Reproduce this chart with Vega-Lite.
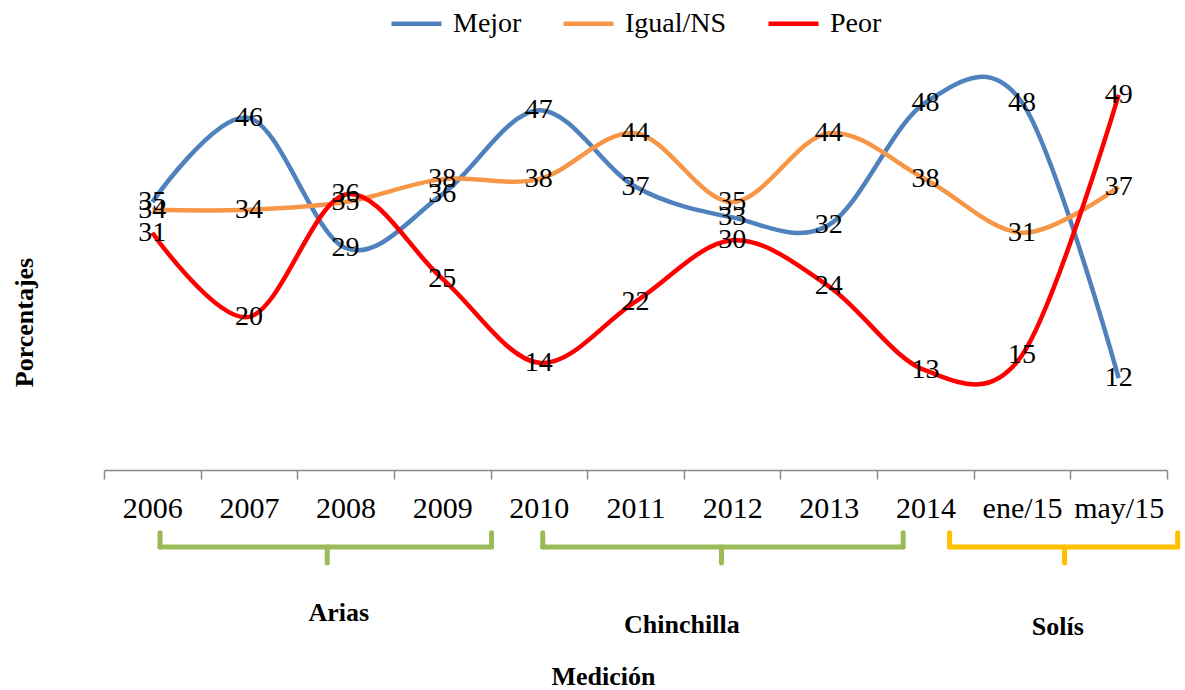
{
  "$schema": "https://vega.github.io/schema/vega-lite/v6.json",
  "autosize": "none",
  "width": 1063,
  "height": 421,
  "padding": {"left": 104, "top": 49, "right": 18, "bottom": 220},
  "background": "white",
  "config": {"view": {"stroke": null}, "font": "Liberation Serif"},
  "datasets": {
    "serie": [
      {"medicion": "2006", "serie": "Mejor", "valor": 35},
      {"medicion": "2007", "serie": "Mejor", "valor": 46},
      {"medicion": "2008", "serie": "Mejor", "valor": 29},
      {"medicion": "2009", "serie": "Mejor", "valor": 36},
      {"medicion": "2010", "serie": "Mejor", "valor": 47},
      {"medicion": "2011", "serie": "Mejor", "valor": 37},
      {"medicion": "2012", "serie": "Mejor", "valor": 33},
      {"medicion": "2013", "serie": "Mejor", "valor": 32},
      {"medicion": "2014", "serie": "Mejor", "valor": 48},
      {"medicion": "ene/15", "serie": "Mejor", "valor": 48},
      {"medicion": "may/15", "serie": "Mejor", "valor": 12},
      {"medicion": "2006", "serie": "Igual/NS", "valor": 34},
      {"medicion": "2007", "serie": "Igual/NS", "valor": 34},
      {"medicion": "2008", "serie": "Igual/NS", "valor": 35},
      {"medicion": "2009", "serie": "Igual/NS", "valor": 38},
      {"medicion": "2010", "serie": "Igual/NS", "valor": 38},
      {"medicion": "2011", "serie": "Igual/NS", "valor": 44},
      {"medicion": "2012", "serie": "Igual/NS", "valor": 35},
      {"medicion": "2013", "serie": "Igual/NS", "valor": 44},
      {"medicion": "2014", "serie": "Igual/NS", "valor": 38},
      {"medicion": "ene/15", "serie": "Igual/NS", "valor": 31},
      {"medicion": "may/15", "serie": "Igual/NS", "valor": 37},
      {"medicion": "2006", "serie": "Peor", "valor": 31},
      {"medicion": "2007", "serie": "Peor", "valor": 20},
      {"medicion": "2008", "serie": "Peor", "valor": 36},
      {"medicion": "2009", "serie": "Peor", "valor": 25},
      {"medicion": "2010", "serie": "Peor", "valor": 14},
      {"medicion": "2011", "serie": "Peor", "valor": 22},
      {"medicion": "2012", "serie": "Peor", "valor": 30},
      {"medicion": "2013", "serie": "Peor", "valor": 24},
      {"medicion": "2014", "serie": "Peor", "valor": 13},
      {"medicion": "ene/15", "serie": "Peor", "valor": 15},
      {"medicion": "may/15", "serie": "Peor", "valor": 49}
    ],
    "llaves": [
      {"gobierno": "Arias", "xa": 0.58, "xb": 0.58, "ya": -8.2, "yb": -10.06},
      {"gobierno": "Arias", "xa": 0.58, "xb": 4.01, "ya": -10.06, "yb": -10.06},
      {"gobierno": "Arias", "xa": 4.01, "xb": 4.01, "ya": -10.06, "yb": -8.2},
      {"gobierno": "Arias", "xa": 2.31, "xb": 2.31, "ya": -10.06, "yb": -12.15},
      {"gobierno": "Chinchilla", "xa": 4.54, "xb": 4.54, "ya": -8.2, "yb": -10.06},
      {"gobierno": "Chinchilla", "xa": 4.54, "xb": 8.27, "ya": -10.06, "yb": -10.06},
      {"gobierno": "Chinchilla", "xa": 8.27, "xb": 8.27, "ya": -10.06, "yb": -8.2},
      {"gobierno": "Chinchilla", "xa": 6.39, "xb": 6.39, "ya": -10.06, "yb": -12.15},
      {"gobierno": "Solís", "xa": 8.75, "xb": 8.75, "ya": -8.2, "yb": -10.06},
      {"gobierno": "Solís", "xa": 8.75, "xb": 11.11, "ya": -10.06, "yb": -10.06},
      {"gobierno": "Solís", "xa": 11.11, "xb": 11.11, "ya": -10.06, "yb": -8.2},
      {"gobierno": "Solís", "xa": 9.94, "xb": 9.94, "ya": -10.06, "yb": -12.15}
    ],
    "gobiernos": [
      {"gobierno": "Arias", "xc": 2.43, "yc": -18.7},
      {"gobierno": "Chinchilla", "xc": 5.98, "yc": -20.25},
      {"gobierno": "Solís", "xc": 9.87, "yc": -20.5}
    ]
  },
  "layer": [
    {
      "data": {"name": "serie"},
      "encoding": {
        "x": {
          "field": "medicion",
          "type": "ordinal",
          "sort": ["2006", "2007", "2008", "2009", "2010", "2011", "2012", "2013", "2014", "ene/15", "may/15"],
          "bandPosition": 0.5,
          "scale": {"type": "band", "paddingInner": 0, "paddingOuter": 0},
          "axis": {
            "title": "Medición",
            "titleFont": "Liberation Serif",
            "titleFontSize": 26,
            "titleFontWeight": "bold",
            "titleColor": "black",
            "titleX": 499,
            "titleY": 206,
            "titleBaseline": "middle",
            "tickBand": "extent",
            "tickSize": 9,
            "tickColor": "#888888",
            "tickWidth": 1.5,
            "domainColor": "#888888",
            "domainWidth": 1.5,
            "labelAngle": 0,
            "labelFont": "Liberation Serif",
            "labelFontSize": 30,
            "labelColor": "black",
            "labelPadding": 14,
            "grid": false
          }
        },
        "y": {
          "field": "valor",
          "type": "quantitative",
          "scale": {"domain": [0, 55]},
          "axis": {
            "title": "Porcentajes",
            "titleFont": "Liberation Serif",
            "titleFontSize": 26,
            "titleFontWeight": "bold",
            "titleColor": "black",
            "titleX": -80,
            "titleY": 273,
            "titleBaseline": "middle",
            "labels": false,
            "ticks": false,
            "domain": false,
            "grid": false
          }
        }
      },
      "layer": [
        {
          "mark": {"type": "line", "interpolate": "cardinal", "tension": 0, "strokeWidth": 4.5, "clip": false},
          "encoding": {
            "color": {
              "field": "serie",
              "type": "nominal",
              "sort": ["Mejor", "Igual/NS", "Peor"],
              "scale": {"domain": ["Mejor", "Igual/NS", "Peor"], "range": ["#4F81BD", "#F79646", "#FF0000"]},
              "legend": {
                "title": null,
                "orient": "none",
                "direction": "horizontal",
                "legendX": 285,
                "legendY": -53,
                "symbolType": "stroke",
                "symbolSize": 2500,
                "symbolStrokeWidth": 4.5,
                "labelFont": "Liberation Serif",
                "labelFontSize": 28,
                "labelColor": "black",
                "labelOffset": 9,
                "columnPadding": 32,
                "labelLimit": 300
              }
            }
          }
        },
        {
          "mark": {"type": "text", "font": "Liberation Serif", "fontSize": 28, "color": "black", "align": "center", "baseline": "middle"},
          "encoding": {"text": {"field": "valor", "type": "quantitative"}}
        }
      ]
    },
    {
      "data": {"name": "llaves"},
      "mark": {"type": "rule", "strokeWidth": 5, "strokeCap": "round", "clip": false},
      "encoding": {
        "x": {"field": "xa", "type": "quantitative", "scale": {"domain": [0, 11], "nice": false, "zero": false}, "axis": null},
        "x2": {"field": "xb"},
        "y": {"field": "ya", "type": "quantitative", "scale": {"domain": [0, 55], "nice": false, "zero": false}, "axis": null},
        "y2": {"field": "yb"},
        "stroke": {
          "field": "gobierno",
          "type": "nominal",
          "scale": {"domain": ["Arias", "Chinchilla", "Solís"], "range": ["#9BBB59", "#9BBB59", "#FFC000"]},
          "legend": null
        }
      }
    },
    {
      "data": {"name": "gobiernos"},
      "mark": {"type": "text", "font": "Liberation Serif", "fontSize": 26, "fontWeight": "bold", "color": "black", "align": "center", "baseline": "middle", "clip": false},
      "encoding": {
        "x": {"field": "xc", "type": "quantitative", "scale": {"domain": [0, 11], "nice": false, "zero": false}, "axis": null},
        "y": {"field": "yc", "type": "quantitative", "scale": {"domain": [0, 55], "nice": false, "zero": false}, "axis": null},
        "text": {"field": "gobierno", "type": "nominal"}
      }
    }
  ],
  "resolve": {"scale": {"x": "independent", "y": "independent"}}
}
